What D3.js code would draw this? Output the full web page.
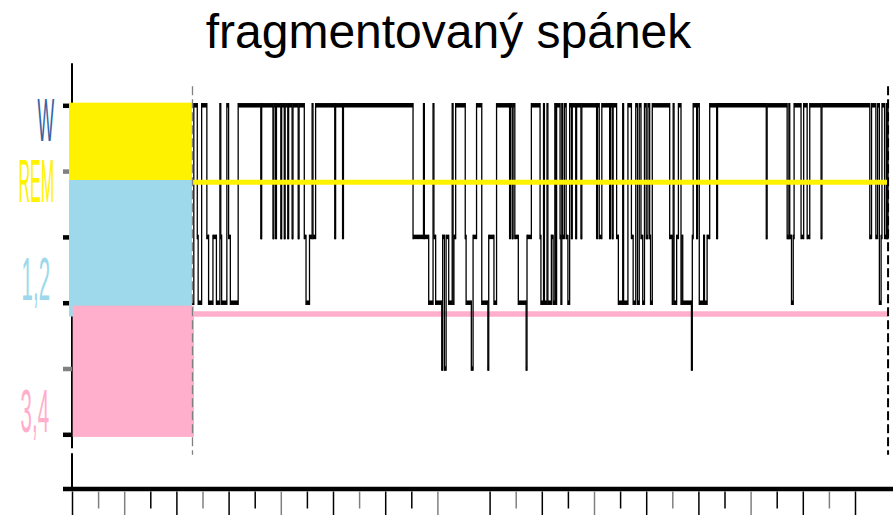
<!DOCTYPE html>
<html>
<head>
<meta charset="utf-8">
<script src="https://cdnjs.cloudflare.com/ajax/libs/d3/7.8.5/d3.min.js"></script>
<style>
  html, body { margin: 0; padding: 0; background: #fff; }
  svg { display: block; }
</style>
</head>
<body>
<div id="chart"></div>
<script>
'use strict';

// hypnogram in 30 s epochs: epoch where a stage starts, and that stage
// (0 = W, 2 = stage 1, 3 = stage 2, 4 = deep)
const changeEpoch = [
  138, 140, 144, 145, 149, 155, 157, 162, 166, 170, 171, 172, 178, 180, 182, 191,
  217, 218, 231, 232, 234, 235, 240, 241, 244, 245, 248, 249, 253, 254, 260, 261,
  267, 269, 273, 276, 277, 280, 302, 303, 311, 312, 392, 404, 405, 410,
  415, 416, 418, 425, 426, 428, 430, 433, 437, 438, 439, 441, 452, 453, 459, 461,
  465, 471, 478, 479, 485, 488, 503, 504, 506, 507, 509, 513, 522, 523, 528,
  538, 539, 542, 543, 546, 547, 551, 553, 555, 556, 557, 561, 562, 563, 564, 566,
  568, 570, 572, 574, 575, 579, 580, 585, 586, 603, 604, 606, 609, 618, 619, 621,
  622, 626, 628, 633, 634, 639, 643, 645, 648, 650, 652, 654, 656, 658, 660, 662,
  664, 665, 667, 687, 690, 691, 692, 695, 697, 700, 701, 702, 712, 713, 714, 718,
  719, 721, 726, 727, 730, 733, 741, 742, 798, 799, 822, 824, 825, 827, 829, 830,
  838, 841, 845, 848, 861, 862, 917, 919, 924, 926, 928, 930, 931, 934, 936, 937, 938
];
const changeStage = [
  3, 0, 2, 3, 0, 2, 3, 2, 3, 0, 2, 3, 0, 2, 3, 0,
  2, 0, 2, 0, 2, 0, 2, 0, 2, 0, 2, 0, 2, 0, 2, 0,
  2, 3, 2, 0, 2, 0, 2, 0, 2, 0, 2, 0, 2, 3,
  0, 2, 3, 4, 2, 4, 2, 3, 0, 3, 2, 0, 2, 3, 4, 2,
  0, 3, 4, 2, 3, 0, 2, 0, 2, 0, 2, 3, 4, 2, 0,
  2, 3, 0, 3, 0, 3, 2, 3, 0, 3, 0, 2, 3, 0, 2, 0,
  2, 3, 0, 2, 0, 2, 0, 2, 0, 2, 0, 2, 0, 2, 0, 2,
  0, 2, 3, 0, 3, 0, 2, 3, 0, 3, 0, 2, 3, 0, 2, 0,
  2, 3, 0, 2, 3, 0, 3, 2, 0, 3, 2, 3, 4, 2, 0, 2,
  0, 3, 2, 3, 2, 0, 2, 0, 2, 0, 2, 0, 2, 3, 2, 0,
  2, 0, 2, 0, 2, 0, 2, 0, 2, 0, 3, 2, 0, 2, 0, 2, 0
];
const lastEpoch = 939;

// lights off / lights on
const markerEpochs = [138.5, 938];

// flat reference levels drawn in colour
const remLevel = 1.17;
const deepLevel = 3.17;

const stageTicks = [0, 1, 2, 3, 4, 5];
const stageLabels = ['W', 'REM', '1,2', '3,4'];
const xTickEpochs = d3.range(0, 901, 30);

const titleText = 'fragmentovaný spánek';

// ---- layout ----
const width = 893;
const height = 515;

const x = d3.scaleLinear().domain([0, 900]).range([72, 855]);
const y = d3.scaleLinear().domain([0, 5]).range([105.3, 434.3]);

const labelColors = ['#3465a4', '#fff200', '#9dd9ea', '#ffafcb'];
const labelBaseline = [0.54, 1.465, 2.96, 4.96];
const labelRight = [54.3, 54.3, 50, 49];
const labelSqueeze = [0.29, 0.265, 0.335, 0.335];
const axisY = 489;

const svg = d3.select('#chart').append('svg')
  .attr('width', width)
  .attr('height', height);

// title
svg.append('text')
  .attr('x', 448.5)
  .attr('y', 48)
  .attr('text-anchor', 'middle')
  .style('font-family', '"Liberation Sans", Arial, sans-serif')
  .style('font-size', '48px')
  .text(titleText);

// y axis line (with the little break near the bottom)
svg.append('line')
  .attr('x1', 72).attr('x2', 72)
  .attr('y1', y(-0.64)).attr('y2', axisY)
  .attr('stroke', '#000')
  .attr('stroke-width', 2)
  .attr('stroke-dasharray', '385,5,1000');

// y ticks
const yAxis = svg.append('g')
  .attr('transform', 'translate(72,0)')
  .call(d3.axisLeft(y).tickValues(stageTicks).tickSize(9).tickFormat(''));
yAxis.select('.domain').remove();
yAxis.selectAll('.tick line')
  .attr('stroke', d => (d === 1 || d === 4) ? '#808080' : '#000')
  .attr('stroke-width', 4.5);

// stage labels, tall and narrow
const labelG = svg.append('g')
  .style('font-family', '"Liberation Sans", Arial, sans-serif')
  .style('font-size', '61px');
labelG.selectAll('text')
  .data(stageLabels)
  .join('text')
  .attr('text-anchor', 'end')
  .attr('transform', (d, i) => `translate(${labelRight[i]},${y(labelBaseline[i])}) scale(${labelSqueeze[i]},1)`)
  .attr('fill', (d, i) => labelColors[i])
  .text(d => d);

// coloured stage bands at the start of the night
const bands = [
  { x0: -3.4, x1: 138, s0: 1.135, s1: 3.21, color: '#9dd9ea' },
  { x0: -3.4, x1: 138, s0: -0.04, s1: 1.135, color: '#fff200' },
  { x0: 0.8, x1: 140.2, s0: 3.045, s1: 5.04, color: '#ffafcb' }
];
svg.append('g').selectAll('rect')
  .data(bands)
  .join('rect')
  .attr('x', d => x(d.x0))
  .attr('width', d => x(d.x1) - x(d.x0))
  .attr('y', d => y(d.s0))
  .attr('height', d => y(d.s1) - y(d.s0))
  .attr('fill', d => d.color);

// pink deep-sleep level
svg.append('line')
  .attr('x1', x(140.2)).attr('x2', x(markerEpochs[1]))
  .attr('y1', y(deepLevel)).attr('y2', y(deepLevel))
  .attr('stroke', '#ffafcb')
  .attr('stroke-width', 5.5);

// hypnogram: thick horizontal runs, thin vertical jumps
const runs = changeEpoch.map((e, i) => ({
  start: e,
  end: i + 1 < changeEpoch.length ? changeEpoch[i + 1] : lastEpoch,
  stage: changeStage[i]
}));
const jumps = runs.slice(1).map((r, i) => ({ at: r.start, from: runs[i].stage, to: r.stage }));

const hyp = svg.append('g').attr('stroke', '#000');
hyp.selectAll('line.run')
  .data(runs)
  .join('line')
  .attr('class', 'run')
  .attr('x1', d => x(d.start)).attr('x2', d => x(d.end))
  .attr('y1', d => y(d.stage)).attr('y2', d => y(d.stage))
  .attr('stroke-width', 4.5);
hyp.selectAll('line.jump')
  .data(jumps)
  .join('line')
  .attr('class', 'jump')
  .attr('x1', d => x(d.at)).attr('x2', d => x(d.at))
  .attr('y1', d => y(Math.min(d.from, d.to)) - 2.25)
  .attr('y2', d => y(Math.max(d.from, d.to)) + 2.25)
  .attr('stroke-width', 1.3);

// yellow REM level, over the black
svg.append('line')
  .attr('x1', x(markerEpochs[0])).attr('x2', x(markerEpochs[1]))
  .attr('y1', y(remLevel)).attr('y2', y(remLevel))
  .attr('stroke', '#fff200')
  .attr('stroke-width', 5);

// dashed markers
svg.append('g').selectAll('line')
  .data(markerEpochs)
  .join('line')
  .attr('x1', d => x(d)).attr('x2', d => x(d))
  .attr('y1', y(-0.29)).attr('y2', y(5.31))
  .attr('stroke', (d, i) => i === 0 ? '#808080' : '#000')
  .attr('stroke-width', (d, i) => i === 0 ? 1.3 : 2)
  .attr('stroke-dasharray', '9,4');

// x axis
svg.append('line')
  .attr('x1', 63).attr('x2', width)
  .attr('y1', axisY).attr('y2', axisY)
  .attr('stroke', '#000')
  .attr('stroke-width', 4.5);

const xAxis = svg.append('g')
  .attr('transform', `translate(0,${axisY + 2.5})`)
  .call(d3.axisBottom(x).tickValues(xTickEpochs.filter((d, i) => i !== 15)).tickSize(23.5).tickFormat(''));
xAxis.select('.domain').remove();
xAxis.selectAll('.tick line')
  .attr('y2', d => (d / 30) % 2 === 0 ? 23.5 : 17)
  .attr('stroke', d => { const i = d / 30; return (i % 3 === 2 || i === 1) ? '#808080' : '#000'; })
  .attr('stroke-width', 1.5);
</script>
</body>
</html>
